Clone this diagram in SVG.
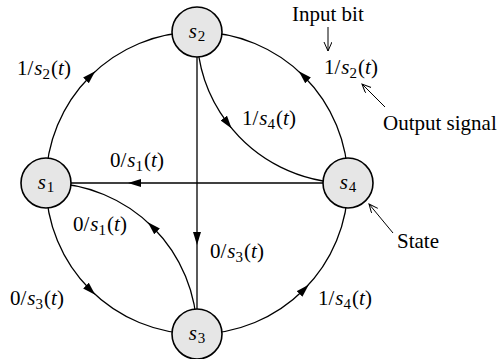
<svg xmlns="http://www.w3.org/2000/svg" width="500" height="359" viewBox="0 0 500 359">
<style>
text{font-family:"Liberation Serif","Times New Roman",serif;font-size:21px;fill:#000}
.i{font-style:italic}
.sub{font-size:15px}
.conn path{fill:none;stroke:#000;stroke-width:1.3}
.node circle{fill:#e6e6e6;stroke:#000;stroke-width:1.6}
.ann{fill:none;stroke:#000;stroke-width:1}
</style>
<defs>
<marker id="ah" markerUnits="userSpaceOnUse" markerWidth="14" markerHeight="10" refX="6" refY="4" orient="auto" viewBox="0 0 14 10">
<path d="M0,0 L13,4 L0,8 z" fill="#000"/>
</marker>
<marker id="oa" markerUnits="userSpaceOnUse" markerWidth="12" markerHeight="10" refX="9" refY="4" orient="auto" viewBox="0 0 12 10">
<path d="M0,0 L9,4 L0,8" fill="none" stroke="#000" stroke-width="1"/>
</marker>
</defs>
<g class="conn" id="connectors">
<path d="M46,183 A151,151 0 0,1 90.2,76.2" marker-end="url(#ah)"/>
<path d="M90.2,76.2 A151,151 0 0,1 197,32"/>
<path d="M348,183 A151,151 0 0,0 303.8,76.2" marker-end="url(#ah)"/>
<path d="M303.8,76.2 A151,151 0 0,0 197,32"/>
<path d="M197,334 A151,151 0 0,0 303.8,289.8" marker-end="url(#ah)"/>
<path d="M303.8,289.8 A151,151 0 0,0 348,183"/>
<path d="M46,183 A151,151 0 0,0 90.2,289.8" marker-end="url(#ah)"/>
<path d="M90.2,289.8 A151,151 0 0,0 197,334"/>
<path d="M197,32 A151,151 0 0,0 227.4,122.9" marker-end="url(#ah)"/>
<path d="M227.4,122.9 A151,151 0 0,0 348,183"/>
<path d="M197,334 A151,151 0 0,0 152.8,227.2" marker-end="url(#ah)"/>
<path d="M152.8,227.2 A151,151 0 0,0 46,183"/>
<path d="M197,32 L197,238" marker-end="url(#ah)"/>
<path d="M197,238 L197,334"/>
<path d="M348,183 L135,183" marker-end="url(#ah)"/>
<path d="M135,183 L46,183"/>
</g>
<g id="s1" class="node"><circle cx="46" cy="183" r="25"/><text x="46" y="189" text-anchor="middle"><tspan class="i">s</tspan><tspan class="sub" dx="1" dy="3">1</tspan></text></g>
<g id="s2" class="node"><circle cx="197" cy="32" r="25"/><text x="197" y="38" text-anchor="middle"><tspan class="i">s</tspan><tspan class="sub" dx="1" dy="3">2</tspan></text></g>
<g id="s3" class="node"><circle cx="197" cy="334" r="25"/><text x="197" y="340" text-anchor="middle"><tspan class="i">s</tspan><tspan class="sub" dx="1" dy="3">3</tspan></text></g>
<g id="s4" class="node"><circle cx="348" cy="183" r="25"/><text x="348" y="189" text-anchor="middle"><tspan class="i">s</tspan><tspan class="sub" dx="1" dy="3">4</tspan></text></g>
<g id="labels">
<text x="17" y="75">1/<tspan class="i" dx="1">s</tspan><tspan class="sub" dy="4">2</tspan><tspan dx="1" dy="-4">(</tspan><tspan class="i">t</tspan>)</text>
<text x="324" y="74">1/<tspan class="i" dx="1">s</tspan><tspan class="sub" dy="4">2</tspan><tspan dx="1" dy="-4">(</tspan><tspan class="i">t</tspan>)</text>
<text x="242" y="125">1/<tspan class="i" dx="1">s</tspan><tspan class="sub" dy="4">4</tspan><tspan dx="1" dy="-4">(</tspan><tspan class="i">t</tspan>)</text>
<text x="110" y="167">0/<tspan class="i" dx="1">s</tspan><tspan class="sub" dy="4">1</tspan><tspan dx="1" dy="-4">(</tspan><tspan class="i">t</tspan>)</text>
<text x="73" y="231">0/<tspan class="i" dx="1">s</tspan><tspan class="sub" dy="4">1</tspan><tspan dx="1" dy="-4">(</tspan><tspan class="i">t</tspan>)</text>
<text x="210" y="258">0/<tspan class="i" dx="1">s</tspan><tspan class="sub" dy="4">3</tspan><tspan dx="1" dy="-4">(</tspan><tspan class="i">t</tspan>)</text>
<text x="10" y="305">0/<tspan class="i" dx="1">s</tspan><tspan class="sub" dy="4">3</tspan><tspan dx="1" dy="-4">(</tspan><tspan class="i">t</tspan>)</text>
<text x="318" y="305">1/<tspan class="i" dx="1">s</tspan><tspan class="sub" dy="4">4</tspan><tspan dx="1" dy="-4">(</tspan><tspan class="i">t</tspan>)</text>
<text x="292" y="21">Input bit</text>
<text x="383" y="130">Output signal</text>
<text x="397" y="248">State</text>
</g>
<g id="annotations">
<line class="ann" x1="328" y1="27" x2="328" y2="51" marker-end="url(#oa)"/>
<line class="ann" x1="385" y1="107" x2="362" y2="84" marker-end="url(#oa)"/>
<line class="ann" x1="393" y1="233" x2="369" y2="204" marker-end="url(#oa)"/>
</g>
</svg>
